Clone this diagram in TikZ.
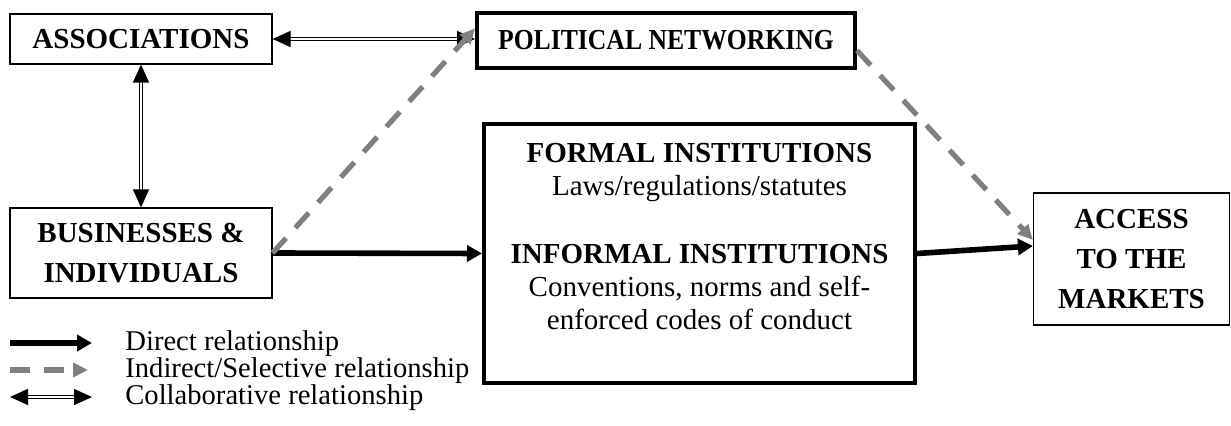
\documentclass[tikz,border=0pt]{standalone}
\usepackage{fontspec}
\setmainfont{Liberation Serif}
\usetikzlibrary{positioning,calc,arrows.meta}
\tikzstyle{block} = [draw, fill=white, rectangle, line width=0.6pt, inner sep=0pt, align=center,
    font=\fontsize{14.5}{20}\selectfont\bfseries]
\tikzstyle{bigblock} = [block, line width=2pt]
\tikzstyle{direct} = [line width=2.8pt, -{Triangle[length=7.5pt,width=8pt]}]
\tikzstyle{indirect} = [line width=2.6pt, gray, dash pattern=on 10pt off 7pt, -{Triangle[length=7.5pt,width=7pt]}]
\tikzstyle{collab} = [double, double distance=1.2pt, line width=0.6pt,
    {Triangle[length=9pt,width=8pt]}-{Triangle[length=9pt,width=8pt]}]
\tikzstyle{legend} = [anchor=west, inner sep=0pt, font=\fontsize{14.3}{16.5}\selectfont]

\begin{document}
\begin{tikzpicture}[x=0.5pt, y=-0.5pt]
        \useasboundingbox (0,0) rectangle (1231,426);

        \node [block, minimum width=131pt, minimum height=25pt] (assoc) at (141,39) {ASSOCIATIONS};
        \node [bigblock, minimum width=189pt, minimum height=27.5pt] (polit) at (666,40.5)
            {\scalebox{0.885}[1]{POLITICAL NETWORKING}};
        \node [block, minimum width=131pt, minimum height=45pt] (biz) at (141,253) {BUSINESSES \&\\INDIVIDUALS};
        \node [bigblock, minimum width=215.5pt, minimum height=129.5pt] (formal) at (699.5,253.5) {};
        \node [below=10.5pt of formal.north, inner sep=0pt, align=center,
            font=\fontsize{14.5}{16.5}\selectfont] (formaltext)
            {\textbf{FORMAL INSTITUTIONS}\\
             Laws/regulations/statutes\\[17.5pt]
             \textbf{INFORMAL INSTITUTIONS}\\
             Conventions, norms and self-\\
             enforced codes of conduct};
        \node [block, minimum width=98pt, minimum height=66pt] (access) at (1131.5,259) {ACCESS\\TO THE\\MARKETS};

        \draw [collab] (assoc.east) -- (assoc.east -| polit.west);
        \draw [collab] (assoc.south) -- (biz.north);
        \draw [direct] (biz.east) -- (formal.west);
        \draw [indirect] (biz.east) -- ([yshift=6pt]polit.west);
        \draw [indirect] ([yshift=-5pt]polit.east) -- ([yshift=9.5pt]access.west);
        \draw [direct] (formal.east) -- ([yshift=6.5pt]access.west);

        \coordinate (d1) at (10,343);
        \coordinate (d2) at (92,343);
        \coordinate (i1) at (10,370);
        \coordinate (i2) at (88,370);
        \coordinate (c1) at (10,397);
        \coordinate (c2) at (92,397);
        \node [legend] (ldirect) at (125,344) {Direct relationship};
        \node [legend] (lindirect) at (125,371) {Indirect/Selective relationship};
        \node [legend] (lcollab) at (125,398) {Collaborative relationship};
        \draw [direct] (d1) -- (d2);
        \draw [indirect] (i1) -- (i2);
        \draw [collab] (c1) -- (c2);
    \end{tikzpicture}
\end{document}
